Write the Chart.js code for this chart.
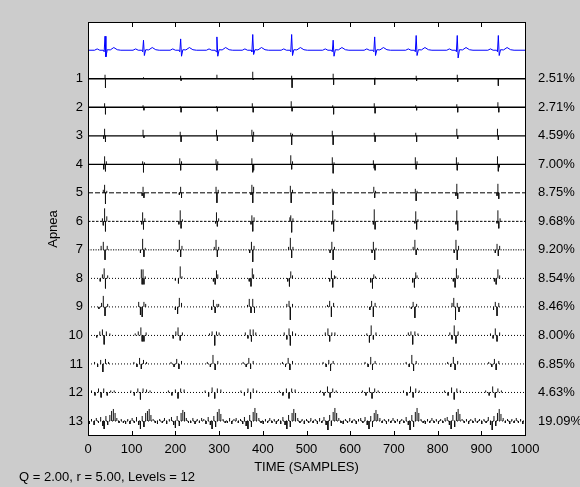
<!DOCTYPE html>
<html><head><meta charset="utf-8">
<script src="https://cdn.jsdelivr.net/npm/chart.js@4.4.0/dist/chart.umd.min.js"></script>
<style>html,body{margin:0;padding:0;background:#cccccc;}canvas{display:block}</style>
</head><body>
<canvas id="c" width="580" height="487"></canvas>
<script>
// ---------- data ----------
const levelNames = ['1','2','3','4','5','6','7','8','9','10','11','12','13'];
const energyLabels = ['2.51%','2.71%','4.59%','7.00%','8.75%','9.68%','9.20%','8.54%','8.46%','8.00%','6.85%','4.63%','19.09%'];
const xTickValues = [0,100,200,300,400,500,600,700,800,900,1000];

// ECG (top trace): sample index and amplitude
const ecgX = [0,15,21,27,35,37,39,41,44,51,59,67,75,
  103,109,115,123,125,127,129,132,139,147,155,163,
  188,194,200,208,210,212,214,217,224,232,240,248,
  271,277,283,291,293,295,297,300,307,315,323,331,
  353,359,365,373,375,377,379,382,389,397,405,413,
  442,448,454,462,464,466,468,471,478,486,494,502,
  537,543,549,557,559,561,563,566,573,581,589,597,
  632,638,644,652,654,656,658,661,668,676,684,692,
  727,733,739,747,749,751,753,756,763,771,779,787,
  821,827,833,841,843,845,847,850,857,865,873,881,
  915,921,927,935,937,939,941,944,951,959,967,975,1000];
const ecgY = [0,0,1.3,0,0,-1.5,14,-6.6,0.5,0.3,2.7,0.5,0,
  0,1.3,0,0,-1.5,10,-5.3,0.5,0.3,2.7,0.5,0,
  0,1.3,0,0,-1.5,11.3,-6,0.5,0.3,2.7,0.5,0,
  0,1.3,0,0,-1.5,13.3,-6,0.5,0.3,2.7,0.5,0,
  0,1.3,0,0,-1.5,15.7,-4.3,0.5,0.3,2.7,0.5,0,
  0,1.3,0,0,-1.5,15.7,-5.3,0.5,0.3,2.7,0.5,0,
  0,1.3,0,0,-1.5,10,-6,0.5,0.3,2.7,0.5,0,
  0,1.3,0,0,-1.5,13.3,-5.3,0.5,0.3,2.7,0.5,0,
  0,1.3,0,0,-1.5,14.7,-5.3,0.5,0.3,2.7,0.5,0,
  0,1.3,0,0,-1.5,14.7,-7.7,0.5,0.3,2.7,0.5,0,
  0,1.3,0,0,-1.5,14.7,-5.3,0.5,0.3,2.7,0.5,0,0];

// Decomposition levels: [sample, amplitude] spikes
const lvl1 = [[39,4],[40,-9],[127,1.5],[212,3],[213,-2],[295,4],[377,7],[378,-1],[466,3],[467,-9],[561,5],[562,-6],[656,-6],[657,1],[751,3],[752,-2],[845,4],[846,-3],[939,-7]];
const lvl2 = [[38,4],[40,-7],[126,2],[128,-3],[211,1],[213,-5],[294,1],[296,-4],[376,4],[378,-5],[465,6],[467,-4],[560,2],[562,-7],[655,4],[657,-6],[750,2],[752,-3],[844,3],[846,-5],[938,5],[940,-5]];
const lvl3 = [[36,-3],[38,7],[40,-6],[126,6],[128,-2],[211,4],[213,-6],[294,6],[296,-5],[375,6],[377,-6],[379,4],[464,3],[466,-9],[468,2],[559,5],[561,-9],[655,3],[657,-6],[750,3],[752,-6],[844,7],[846,-3],[937,7],[939,-4]];
const lvl4 = [[36,-5],[38,8],[40,-7],[42,3],[125,3],[127,-8],[129,2],[210,6],[212,-6],[214,3],[293,5],[295,-6],[297,3],[375,6],[377,-8],[379,-6],[464,9],[466,-5],[468,3],[559,7],[561,-9],[563,2],[653,4],[655,-4],[657,-6],[749,7],[751,-5],[753,3],[843,7],[845,-6],[847,2],[937,8],[939,-7],[941,-3]];
const lvl5 = [[35,3],[38,8],[40,-11],[43,2],[124,-3],[126,6],[128,-5],[209,-2],[212,6],[214,-5],[293,6],[295,-10],[298,3],[373,-2],[375,8],[377,-10],[379,6],[463,7],[465,-10],[468,3],[559,4],[561,-12],[563,2],[654,6],[656,-5],[658,2],[749,4],[751,-8],[753,2],[842,-3],[844,9],[846,-6],[936,-3],[938,9],[940,-6]];
const lvl6 = [[33,3],[35,-4],[38,13],[40,-10],[43,5],[123,-3],[125,9],[127,-8],[130,3],[208,-3],[211,11],[213,-7],[216,2],[292,-2],[294,9],[296,-5],[299,3],[373,-3],[375,6],[377,-10],[380,4],[462,4],[464,6],[466,-11],[469,3],[558,-3],[560,11],[562,-10],[565,2],[653,-3],[655,12],[657,-8],[748,-2],[750,10],[752,-8],[755,2],[842,-3],[844,11],[846,-9],[936,-2],[938,11],[940,-7],[943,3]];
const lvl7 = [[30,4],[35,8],[39,-10],[44,4],[120,-3],[125,11],[128,-7],[131,2],[205,-2],[209,10],[212,-7],[215,4],[289,3],[293,10],[296,-7],[299,3],[370,-3],[374,8],[377,-12],[380,4],[459,3],[463,12],[466,-8],[469,3],[554,-3],[558,8],[561,-10],[564,3],[650,-3],[653,8],[656,-10],[659,2],[744,3],[748,10],[751,-5],[754,2],[838,-3],[842,10],[845,-10],[848,4],[932,-3],[936,6],[939,-6],[942,4]];
const lvl8 = [[28,-3],[33,4],[37,10],[40,-10],[45,3],[122,9],[124,-6],[126,9],[128,-6],[131,2],[200,-2],[207,-5],[211,12],[215,2],[287,-3],[291,-6],[294,8],[297,4],[369,-3],[373,-8],[376,10],[379,4],[457,-3],[461,-8],[464,7],[468,3],[553,-3],[557,8],[560,-9],[564,3],[567,2],[647,-4],[651,-10],[654,4],[658,2],[743,-4],[747,-9],[750,6],[753,3],[836,-3],[840,-9],[843,10],[847,3],[930,-3],[934,-6],[938,9],[942,3]];
const lvl9 = [[25,-2],[31,4],[35,11],[39,-9],[45,3],[116,5],[120,-8],[124,-10],[128,5],[132,3],[200,-3],[205,-7],[209,9],[214,4],[283,-3],[287,7],[291,-6],[295,3],[299,3],[365,2],[369,8],[373,-6],[377,8],[381,-6],[455,3],[460,6],[463,-13],[468,3],[548,2],[553,6],[557,-10],[562,4],[645,-3],[649,6],[653,-10],[657,4],[740,-2],[744,5],[748,-11],[752,3],[833,4],[837,9],[841,-13],[845,4],[849,-5],[928,-3],[932,5],[936,-9],[940,4]];
const lvl10 = [[20,-2],[27,4],[33,6],[37,-9],[42,4],[50,2],[108,2],[115,4],[121,8],[124,-6],[128,-6],[133,3],[195,-3],[201,4],[206,8],[211,-5],[216,3],[278,2],[284,4],[290,-10],[294,4],[300,3],[360,3],[366,-3],[371,6],[374,-6],[378,6],[384,3],[449,3],[455,-4],[460,7],[463,-10],[468,4],[475,2],[543,3],[549,7],[553,-6],[558,3],[565,3],[638,2],[644,-7],[648,10],[653,-4],[659,3],[733,3],[739,4],[743,-9],[748,4],[755,2],[828,3],[833,-4],[838,10],[842,-8],[847,4],[921,2],[927,-3],[932,7],[936,-6],[942,3]];
const lvl11 = [[15,2],[22,-3],[29,4],[34,-8],[40,5],[47,2],[105,2],[112,-3],[118,6],[122,-5],[127,4],[134,2],[190,2],[197,-3],[203,5],[208,-5],[214,3],[273,2],[280,-3],[286,9],[291,-6],[297,3],[355,2],[362,-3],[368,6],[372,-5],[378,3],[445,2],[452,-3],[458,6],[462,-6],[468,3],[538,2],[545,-3],[551,4],[555,-7],[561,3],[634,2],[641,-3],[647,7],[651,-6],[657,3],[728,2],[735,-3],[741,9],[745,-7],[751,3],[823,2],[830,-3],[836,7],[840,-6],[846,3],[917,2],[924,-3],[930,5],[934,-6],[940,3]];
const lvl12 = [[8,2],[16,-3],[24,4],[30,-5],[36,4],[44,-3],[52,2],[60,2],[98,2],[106,-3],[114,4],[120,-7],[126,4],[134,3],[142,2],[184,2],[192,-3],[200,3],[206,-6],[212,4],[220,3],[268,2],[276,-4],[284,5],[290,-6],[296,4],[304,3],[350,2],[358,-3],[366,4],[372,-6],[378,4],[386,2],[438,2],[446,-3],[454,4],[460,-6],[466,4],[474,3],[532,2],[540,-3],[548,6],[554,-5],[560,4],[568,2],[628,2],[636,-3],[644,5],[650,-6],[656,4],[664,2],[722,2],[730,-3],[738,6],[744,-5],[750,4],[758,2],[816,2],[824,-3],[832,5],[838,-7],[844,4],[852,2],[910,2],[918,-3],[926,6],[932,-5],[938,4],[946,2]];
const lvl13 = [[3,-3],[8,2],[14,-4],[19,3],[24,-2],[29,4],[34,-5],[37,-8],[41,5],[45,-4],[50,6],[54,10],[58,12],[62,8],[66,3],[71,-2],[76,2],[81,-2],[86,-3],[91,2],[96,-3],[101,3],[106,-2],[111,4],[116,-4],[120,-8],[124,5],[128,-6],[132,8],[136,10],[140,12],[144,6],[149,2],[154,-2],[159,-3],[164,2],[170,-2],[175,3],[180,-3],[186,2],[191,4],[196,-4],[200,-7],[204,5],[209,-5],[213,8],[217,11],[221,9],[225,3],[230,-2],[235,-2],[240,3],[245,-3],[250,2],[255,-2],[260,3],[265,2],[270,-3],[275,4],[280,-4],[284,-8],[288,5],[292,-6],[296,9],[300,12],[304,7],[309,2],[314,-2],[319,-2],[324,3],[329,-3],[334,2],[339,3],[344,-2],[349,2],[354,-3],[358,4],[362,-5],[366,-8],[370,6],[374,-6],[378,9],[382,13],[386,8],[391,3],[396,-2],[401,-3],[406,2],[411,-2],[416,3],[421,-2],[426,2],[431,-3],[436,2],[441,-3],[446,4],[451,-4],[455,-8],[459,6],[463,-6],[467,8],[471,12],[475,8],[480,3],[485,-2],[490,2],[495,-3],[500,2],[505,-2],[510,3],[515,-2],[520,2],[525,-3],[530,3],[535,-2],[540,4],[545,-4],[549,-9],[553,6],[557,-5],[561,9],[565,13],[569,8],[574,3],[579,-2],[584,-3],[589,2],[594,-2],[599,3],[604,-2],[609,2],[614,-3],[619,2],[624,3],[629,-2],[634,4],[639,-4],[643,-8],[647,5],[651,-6],[655,8],[659,11],[663,7],[668,3],[673,-2],[678,2],[683,-3],[688,2],[693,-2],[698,3],[703,-2],[708,2],[713,-3],[718,2],[723,-2],[728,4],[733,-4],[737,-9],[741,6],[745,-6],[749,9],[753,13],[757,8],[762,2],[767,-2],[772,-3],[777,2],[782,-2],[787,3],[792,-2],[797,2],[802,-3],[807,2],[812,-2],[817,3],[822,4],[827,-4],[831,-8],[835,6],[839,-6],[843,9],[847,12],[851,7],[856,2],[861,-2],[866,2],[871,-3],[876,2],[881,-2],[886,3],[891,-2],[896,2],[901,-3],[906,2],[911,-2],[916,4],[921,-4],[925,-9],[929,5],[933,-5],[937,8],[941,12],[945,7],[950,3],[955,-2],[960,2],[965,-3],[970,2],[975,-2],[980,3],[985,-2],[990,2],[995,-3]];
const levels = [lvl1,lvl2,lvl3,lvl4,lvl5,lvl6,lvl7,lvl8,lvl9,lvl10,lvl11,lvl12,lvl13];
const footerText = 'Q = 2.00, r = 5.00, Levels = 12';

// ---------- styles / layout ----------
const ROW = 28.5;
const Y_MAX = 28.2;
const Y_MIN = -(13 * ROW + 15);
const dashes = [[],[],[],[],[5,2],[2.5,1.5],[1.2,1.3],[1,2],[1,2],[1,2],[1,2],[1,2],[1,2]];
const FONT = "'Liberation Sans', Arial, sans-serif";
const FS = 13;

Chart.defaults.font.family = FONT;
Chart.defaults.font.size = FS;
Chart.defaults.color = '#000';

const datasets = [];
datasets.push({
  label: 'ECG', data: ecgX.map((x, i) => ({x, y: ecgY[i]})),
  borderColor: '#0000ff', borderWidth: 1, pointRadius: 0, tension: 0
});
levels.forEach((sp, i) => {
  const base = -(i + 1) * ROW;
  datasets.push({
    label: 'base' + (i + 1), data: [{x: 0, y: base}, {x: 1000, y: base}],
    borderColor: '#000', borderWidth: i < 4 ? 1.3 : 1, borderDash: dashes[i], pointRadius: 0, tension: 0
  });
  const d = [];
  sp.forEach(([s, a]) => { d.push({x: s, y: base}, {x: s, y: base + a}, {x: s, y: null}); });
  datasets.push({
    label: 'lvl' + (i + 1), data: d, borderColor: '#111', borderWidth: 1, pointRadius: 0, tension: 0, spanGaps: false
  });
});

const bgPlugin = {
  id: 'bg',
  beforeDraw(chart) {
    const {ctx, chartArea: a, width, height} = chart;
    ctx.save();
    ctx.fillStyle = '#cccccc';
    ctx.fillRect(0, 0, width, height);
    ctx.fillStyle = '#ffffff';
    ctx.fillRect(a.left, a.top, a.right - a.left, a.bottom - a.top);
    ctx.restore();
  }
};
const framePlugin = {
  id: 'frame',
  afterDraw(chart) {
    const {ctx, chartArea: a, scales: {x}} = chart;
    ctx.save();
    ctx.strokeStyle = '#000';
    ctx.lineWidth = 1;
    ctx.strokeRect(a.left + 0.5, a.top + 0.5, a.right - a.left, a.bottom - a.top - 1);
    ctx.beginPath();
    xTickValues.forEach(v => {
      const px = Math.round(x.getPixelForValue(v)) + 0.5;
      ctx.moveTo(px, a.bottom); ctx.lineTo(px, a.bottom - 5);
      ctx.moveTo(px, a.top); ctx.lineTo(px, a.top + 5);
    });
    ctx.stroke();
    ctx.fillStyle = '#000';
    ctx.font = FS + 'px ' + FONT;
    ctx.textBaseline = 'middle';
    ctx.textAlign = 'left';
    ctx.fillText(footerText, 19, 477);
    ctx.restore();
  }
};

new Chart(document.getElementById('c'), {
  type: 'line',
  data: {datasets},
  options: {
    responsive: false, animation: false, devicePixelRatio: 1,
    layout: {padding: {top: 22, left: 0, right: 0, bottom: 0}},
    plugins: {legend: {display: false}, tooltip: {enabled: false}},
    scales: {
      x: {
        type: 'linear', min: 0, max: 1000,
        grid: {display: false, drawTicks: false}, border: {display: false},
        afterBuildTicks(s) { s.ticks = xTickValues.map(v => ({value: v})); },
        ticks: {autoSkip: false, maxRotation: 0, padding: 6, callback: (v) => String(v)},
        title: {display: true, text: 'TIME (SAMPLES)', padding: {top: 0, bottom: 12}},
        afterFit(s) { s.height = 51; }
      },
      y: {
        type: 'linear', position: 'left', min: Y_MIN, max: Y_MAX,
        grid: {display: false, drawTicks: false}, border: {display: false},
        afterBuildTicks(s) { s.ticks = levelNames.map((n, i) => ({value: -(i + 1) * ROW})); },
        ticks: {padding: 5, autoSkip: false, callback: (v, i) => levelNames[i]},
        title: {display: true, text: 'Apnea', padding: {top: 46, bottom: 0}},
        afterFit(s) { s.width = 88; }
      },
      y2: {
        type: 'linear', position: 'right', min: Y_MIN, max: Y_MAX,
        grid: {display: false, drawTicks: false}, border: {display: false},
        afterBuildTicks(s) { s.ticks = energyLabels.map((n, i) => ({value: -(i + 1) * ROW})); },
        ticks: {padding: 13, autoSkip: false, callback: (v, i) => energyLabels[i]},
        afterFit(s) { s.width = 55; }
      }
    }
  },
  plugins: [bgPlugin, framePlugin]
});
</script>
</body></html>
